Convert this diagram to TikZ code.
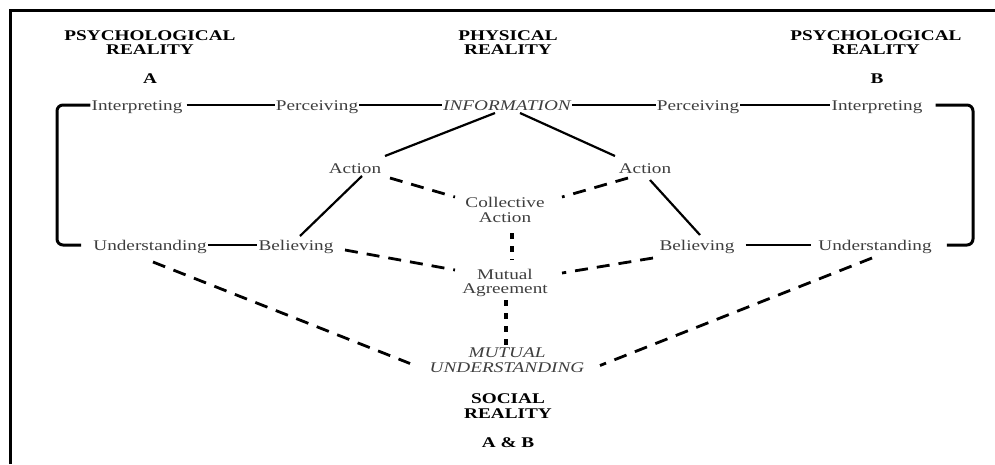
\documentclass[tikz,border=0pt]{standalone}
\usepackage{fontspec}
\setmainfont{Liberation Serif}[FakeStretch=1.3]
\usetikzlibrary{calc}
\definecolor{labelgrey}{HTML}{3E3E3E}
\tikzset{
  lblfont/.style={font=\fontsize{14.8}{14.8}\selectfont},
  lbl/.style={lblfont, text=labelgrey, inner xsep=1pt, inner ysep=0pt,
    text height=10pt, text depth=0pt},
  lbltwo/.style={lblfont, text=labelgrey, align=center, inner sep=0pt},
  hd/.style={font=\fontsize{14.8}{14.8}\selectfont\bfseries, align=center, inner sep=0pt},
  solidln/.style={line width=2.2pt},
  bracketln/.style={line width=3pt, rounded corners=6pt},
  dashln/.style={line width=2.8pt, dash pattern=on 13pt off 9pt},
  vdashln/.style={line width=3.5pt, dash pattern=on 6pt off 7pt},
}
\begin{document}
\begin{tikzpicture}[x=1pt, y=-1pt]
\useasboundingbox (0,0) rectangle (995,464);

% frame (left and top sides)
\draw[line width=3pt] (10,464) -- (10,10) -- (995,10);

% headings
\node[hd] (hdA) at (150,42.5) {PSYCHOLOGICAL\\REALITY};
\node[hd, anchor=base] (tagA) at (150,83) {A};
\node[hd] (hdPhys) at (508,42.5) {PHYSICAL\\REALITY};
\node[hd] (hdB) at (876,42.5) {PSYCHOLOGICAL\\REALITY};
\node[hd, anchor=base] (tagB) at (877,83) {B};
\node[hd] (hdSoc) at (508,406) {SOCIAL\\REALITY};
\node[hd, anchor=base] (tagAB) at (508,447) {A \& B};

% top row
\node[lbl] (intA) at (137,105) {Interpreting};
\node[lbl] (percA) at (317,105) {Perceiving};
\node[lbl, font=\fontsize{14.8}{14.8}\selectfont\itshape] (info) at (507,105) {INFORMATION};
\node[lbl] (percB) at (698,105) {Perceiving};
\node[lbl] (intB) at (877,105) {Interpreting};

% actions
\node[lbl] (actA) at (355,168) {Action};
\node[lbl] (actB) at (645,168) {Action};
\node[lbltwo] (coll) at (505,210) {Collective\\Action};

% lower row
\node[lbl] (undA) at (150,245) {Understanding};
\node[lbl] (belA) at (296,245) {Believing};
\node[lbl] (belB) at (697,245) {Believing};
\node[lbl] (undB) at (875,245) {Understanding};
\node[lbltwo] (mutag) at (505,283) {Mutual\\Agreement};
\node[lbltwo, font=\fontsize{14.8}{14.8}\selectfont\itshape] (mutund) at (507,360.5) {MUTUAL\\UNDERSTANDING};

% solid links along the rows
\draw[solidln] ([xshift=3pt]intA.east) -- (percA.west);
\draw[solidln] (percA.east) -- (info.west);
\draw[solidln] (info.east) -- (percB.west);
\draw[solidln] (percB.east) -- (intB.west);
\draw[solidln] (undA.east) -- (belA.west);
\draw[solidln] ([xshift=10pt]belB.east) -- ([xshift=-6pt]undB.west);

% brackets closing each side
\draw[bracketln] (intA.west) -- (intA.west -| 57,0) -- (undA.west -| 57,0) -- ([xshift=-11pt]undA.west);
\draw[bracketln] ([xshift=12pt]intB.east) -- (intB.east -| 973,0) -- (undB.east -| 973,0) -- ([xshift=14pt]undB.east);

% solid diagonals
\draw[solidln] ($(info)+(-12,8)$) -- ($(actA)+(30,-12)$);
\draw[solidln] ($(info)+(13,8)$) -- ($(actB)+(-30,-12)$);
\draw[solidln] ($(actA)+(7,8)$) -- ($(belA)+(4,-9)$);
\draw[solidln] ($(actB)+(5,12)$) -- ($(belB)+(3,-10)$);

% dashed links
\draw[dashln] ($(actA)+(35,10)$) -- ($(coll)+(-50,-13)$);
\draw[dashln] ($(actB)+(-17,10)$) -- ($(coll)+(57,-13)$);
\draw[dashln] ($(belA)+(49,5)$) -- ($(mutag)+(-50,-13)$);
\draw[dashln] ($(belB)+(-44,13)$) -- ($(mutag)+(57,-10)$);
\draw[dashln] ($(undA)+(3,17)$) -- ($(mutund)+(-97,3)$);
\draw[dashln] ($(undB)+(-3,13)$) -- ($(mutund)+(93,5)$);
\draw[vdashln] ($(coll)+(7,23)$) -- ($(mutag)+(7,-23)$);
\draw[vdashln] ($(mutag)+(1,17)$) -- ($(mutund)+(-1,-15)$);
\end{tikzpicture}
\end{document}
